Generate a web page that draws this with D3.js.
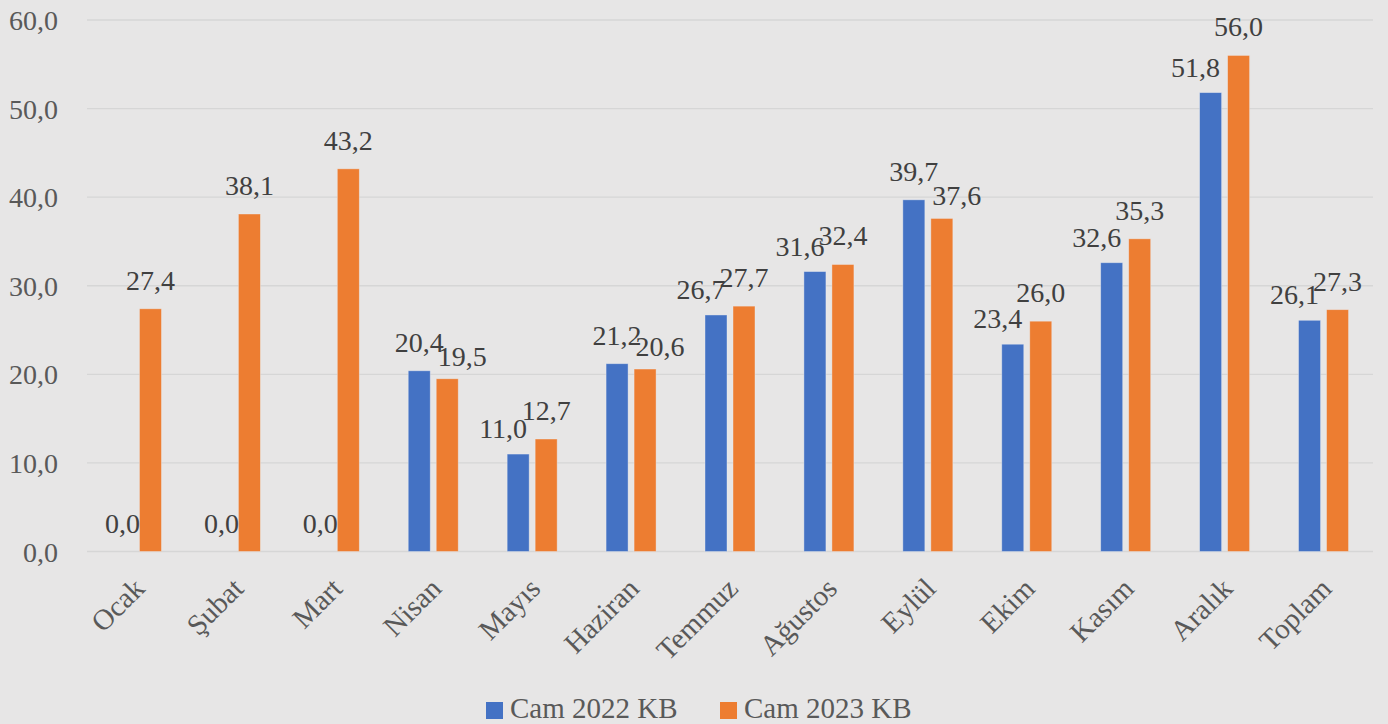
<!DOCTYPE html>
<html><head><meta charset="utf-8">
<script src="https://cdn.jsdelivr.net/npm/d3@7"></script>
<style>body{margin:0;background:#e7e6e6;}svg{display:block;}</style>
</head><body><svg id="c" width="1388" height="724"></svg>
<script>
const categories = ["Ocak","Şubat","Mart","Nisan","Mayıs","Haziran","Temmuz","Ağustos","Eylül","Ekim","Kasım","Aralık","Toplam"];
const seriesNames = ["Cam 2022 KB","Cam 2023 KB"];
const cam2022 = [0.0,0.0,0.0,20.4,11.0,21.2,26.7,31.6,39.7,23.4,32.6,51.8,26.1];
const cam2023 = [27.4,38.1,43.2,19.5,12.7,20.6,27.7,32.4,37.6,26.0,35.3,56.0,27.3];
const yTicks = [0,10,20,30,40,50,60];
const colors = ["#4472C4","#ED7D31"];

(function(){
const svg = d3.select("#c");
const FONT = "'Liberation Serif', 'Times New Roman', serif";
const plotL = 87, plotR = 1373, plotT = 20, plotB = 551.5;

const x0 = d3.scaleBand().domain(categories).range([plotL, plotR]).paddingInner(0).paddingOuter(0);
const bw = x0.bandwidth();
const x1 = d3.scaleBand().domain(seriesNames).range([bw/2 - 25, bw/2 + 25]).paddingInner(6/28).paddingOuter(0);
const y = d3.scaleLinear().domain([0,60]).range([plotB, plotT]);
const fmt = v => d3.format(".1f")(v).replace(".", ",");

// gridlines
svg.append("g").selectAll("line").data(yTicks).join("line")
  .attr("x1", plotL).attr("x2", plotR)
  .attr("y1", d => y(d)).attr("y2", d => y(d))
  .attr("stroke", "#d6d6d6").attr("stroke-width", 1.3);

// y axis labels
const yAxis = d3.axisLeft(y).tickValues(yTicks).tickFormat(fmt).tickSize(0).tickPadding(0);
const ya = svg.append("g").attr("transform", `translate(58,0)`).call(yAxis);
ya.select(".domain").remove();
ya.selectAll("text").attr("font-family", FONT).attr("font-size", 28).attr("fill", "#595959").attr("dy", "0.34em");

// x axis labels
const xAxis = d3.axisBottom(x0).tickSize(0).tickPadding(0);
const xa = svg.append("g").attr("transform", `translate(0,${plotB})`).call(xAxis);
xa.select(".domain").remove();
xa.selectAll(".tick text")
  .attr("font-family", FONT).attr("font-size", 29).attr("fill", "#595959")
  .attr("text-anchor", "end").attr("dominant-baseline", "middle").attr("dy", 0).attr("y", 0)
  .attr("transform", "translate(5,34) rotate(-45)");

// bars
const rows = categories.map((c, i) => ({cat: c, vals: [cam2022[i], cam2023[i]]}));
const g = svg.append("g");
rows.forEach(r => {
  r.vals.forEach((v, s) => {
    if (v > 0) {
      g.append("rect")
        .attr("x", x0(r.cat) + x1(seriesNames[s]))
        .attr("y", y(v))
        .attr("width", x1.bandwidth())
        .attr("height", y(0) - y(v))
        .attr("fill", colors[s])
        .attr("stroke", "#eef0f4").attr("stroke-opacity", 0.5).attr("stroke-width", 0.8);
    }
  });
});

// data labels with simple collision avoidance: lower label moves away
const labelGap = 19, shift = 15;
rows.forEach(r => {
  const cx = r.vals.map((v, s) => x0(r.cat) + x1(seriesNames[s]) + x1.bandwidth()/2);
  const by = r.vals.map(v => y(v) - labelGap);
  const dx = [0, 0], dyy = [0, 0];
  if (r.vals[0] > 0 && r.vals[1] > 0 && Math.abs(by[0] - by[1]) < 40) {
    if (r.vals[0] < r.vals[1]) { dx[0] = -shift; dyy[0] = 3; }
    else { dx[1] = shift; dyy[1] = 6; }
  }
  r.vals.forEach((v, s) => {
    svg.append("text")
      .attr("x", cx[s] + dx[s]).attr("y", by[s] + dyy[s])
      .attr("text-anchor", "middle")
      .attr("font-family", FONT).attr("font-size", 28).attr("fill", "#404040")
      .text(fmt(v));
  });
});

// legend
const lg = svg.append("g");
const legX = [486, 720];
seriesNames.forEach((n, i) => {
  lg.append("rect").attr("x", legX[i]).attr("y", 702).attr("width", 17).attr("height", 17).attr("fill", colors[i]);
  lg.append("text").attr("x", legX[i] + 24).attr("y", 718)
    .attr("font-family", FONT).attr("font-size", 29).attr("fill", "#595959").text(n);
});
})();
</script></body></html>
